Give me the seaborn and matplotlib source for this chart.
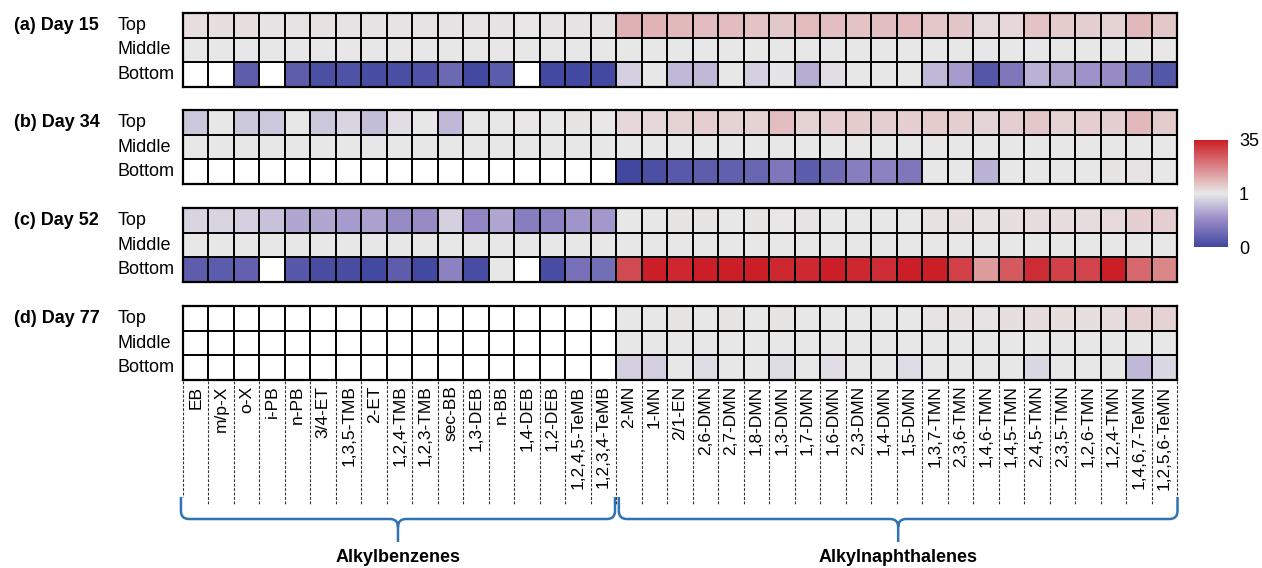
import numpy as np
import pandas as pd
import matplotlib
matplotlib.use("Agg")
import matplotlib.pyplot as plt
import seaborn as sns
from matplotlib.colors import LinearSegmentedColormap, TwoSlopeNorm
from matplotlib.path import Path
from matplotlib.patches import PathPatch
from matplotlib.lines import Line2D
import matplotlib.transforms as mtransforms

nan = np.nan

benzenes = ["EB", "m/p-X", "o-X", "i-PB", "n-PB", "3/4-ET", "1,3,5-TMB", "2-ET",
            "1,2,4-TMB", "1,2,3-TMB", "sec-BB", "1,3-DEB", "n-BB", "1,4-DEB",
            "1,2-DEB", "1,2,4,5-TeMB", "1,2,3,4-TeMB"]
naphthalenes = ["2-MN", "1-MN", "2/1-EN", "2,6-DMN", "2,7-DMN", "1,8-DMN", "1,3-DMN",
                "1,7-DMN", "1,6-DMN", "2,3-DMN", "1,4-DMN", "1,5-DMN", "1,3,7-TMN",
                "2,3,6-TMN", "1,4,6-TMN", "1,4,5-TMN", "2,4,5-TMN", "2,3,5-TMN",
                "1,2,6-TMN", "1,2,4-TMN", "1,4,6,7-TeMN", "1,2,5,6-TeMN"]
compounds = benzenes + naphthalenes
rows = ["Top", "Middle", "Bottom"]
days = ["(a) Day 15", "(b) Day 34", "(c) Day 52", "(d) Day 77"]

# ratio relative to the middle layer (blank = not detected)
d15_top = [2.8, 2.6, 2.6, 1.8, 2.0, 2.2, 2.0, 2.0, 2.0, 2.0, 2.0, 1.8, 2.0, 1.3, 2.0, 1.8, 1.8,
           10.1, 9.8, 8.9, 8.4, 8.4, 7.2, 6.4, 8.6, 8.1, 7.2, 8.1, 8.4, 6.4, 6.8, 3.4, 3.9,
           7.2, 6.0, 5.5, 4.7, 8.9, 6.4]
d15_mid = [1, 1, 1, 1, 1, 1, 1, 1, 1, 1, 1, 1, 1, 1, 1, 1, 1,
           1, 1, 1, 1, 1, 1, 1, 1, 1, 1, 1, 1, 1, 1, 1, 1, 1, 1, 1, 1, 1, 1]
d15_bot = [nan, nan, 0.17, nan, 0.17, 0.07, 0.08, 0.04, 0.06, 0.08, 0.25, 0.01, 0.16, nan,
           0.01, 0.01, 0.01,
           0.87, 1.0, 0.75, 0.75, 1.0, 0.87, 0.98, 0.69, 0.95, 1.0, 1.0, 1.0, 0.75, 0.6,
           0.11, 0.36, 0.72, 0.64, 0.54, 0.51, 0.3, 0.11]

d34_top = [0.83, 1.0, 0.83, 0.83, 1.0, 0.83, 0.90, 0.78, 0.95, 1.0, 0.75, 1.0, 1.0, 1.3,
           1.0, 1.7, 1.3,
           3.9, 3.9, 4.7, 5.5, 4.7, 4.7, 8.1, 4.7, 5.5, 6.0, 5.5, 5.0, 6.0, 5.5, 4.4, 5.5,
           6.4, 4.7, 5.5, 5.0, 8.9, 6.0]
d34_mid = [1, 1, 1, 1, 1, 1, 1, 1, 1, 1, 1, 1, 1, 1, 1, 1, 1,
           1, 1, 1, 1, 1, 1, 1, 1, 1, 1, 1, 1, 1, 1, 1, 1, 1, 1, 1, 1, 1, 1]
d34_bot = [nan, nan, nan, nan, nan, nan, nan, nan, nan, nan, nan, nan, nan, nan, nan, nan, nan,
           0.0, 0.07, 0.14, 0.17, 0.19, 0.23, 0.36, 0.16, 0.27, 0.42, 0.45, 0.36, 1.0, 1.0,
           0.72, 1.0, 1.0, 1.0, 1.0, 1.7, 2.0, 1.0]

d52_top = [0.90, 0.90, 0.87, 0.80, 0.66, 0.66, 0.60, 0.63, 0.51, 0.51, 0.87, 0.48, 0.66,
           0.42, 0.45, 0.57, 0.58,
           1.0, 1.0, 1.7, 1.7, 1.0, 1.7, 1.3, 2.0, 1.0, 1.0, 1.0, 1.0, 2.3, 2.7, 2.2, 2.7,
           3.0, 3.0, 3.0, 3.4, 5.0, 5.5]
d52_mid = [1, 1, 1, 1, 1, 1, 1, 1, 1, 1, 1, 1, 1, 1, 1, 1, 1,
           1, 1, 1, 1, 1, 1, 1, 1, 1, 1, 1, 1, 1, 1, 1, 1, 1, 1, 1, 1, 1, 1]
d52_bot = [0.17, 0.16, 0.20, nan, 0.13, 0.05, 0.05, 0.01, 0.17, 0.01, 0.45, 0.04, 1.0, nan,
           0.05, 0.31, 0.30,
           27.4, 35, 33.6, 35, 35, 35, 33.3, 33, 35, 33.3, 32.5, 35, 35, 29, 14, 24.9,
           32.5, 29, 28.5, 35, 22.4, 17.3]

d77_top = [nan, nan, nan, nan, nan, nan, nan, nan, nan, nan, nan, nan, nan, nan, nan, nan, nan,
           1.0, 1.0, 1.7, 1.0, 1.7, 1.0, 1.7, 1.0, 1.0, 1.0, 1.0, 1.0, 2.0, 2.3, 2.0, 2.7,
           3.0, 2.7, 2.7, 3.0, 4.9, 4.7]
d77_mid = [nan, nan, nan, nan, nan, nan, nan, nan, nan, nan, nan, nan, nan, nan, nan, nan, nan,
           1, 1, 1, 1, 1, 1, 1, 1, 1, 1, 1, 1, 1, 1, 1, 1, 1, 1, 1, 1, 1, 1]
d77_bot = [nan, nan, nan, nan, nan, nan, nan, nan, nan, nan, nan, nan, nan, nan, nan, nan, nan,
           0.87, 0.87, 1.0, 0.94, 1.0, 1.0, 0.94, 1.0, 0.95, 1.0, 1.0, 0.93, 1.0, 1.0, 1.0,
           1.0, 0.92, 1.0, 1.0, 1.0, 0.75, 0.92]

panels = [[d15_top, d15_mid, d15_bot], [d34_top, d34_mid, d34_bot],
          [d52_top, d52_mid, d52_bot], [d77_top, d77_mid, d77_bot]]

sns.set_style("white")
plt.rcParams["font.family"] = ["Liberation Sans", "DejaVu Sans"]
plt.rcParams["text.color"] = "black"
plt.rcParams["xtick.color"] = "black"
plt.rcParams["ytick.color"] = "black"

cmap = LinearSegmentedColormap.from_list(
    "ratio", [(0.0, "#4248A0"), (0.25, "#9589C5"), (0.5, "#E8E8E8"), (1.0, "#CC1E26")])
norm = TwoSlopeNorm(vmin=0, vcenter=1, vmax=35)

W, H = 1262, 568
fig = plt.figure(figsize=(W / 100, H / 100), dpi=100)

tops = [13, 110, 208, 306]
axes = []
for i, top in enumerate(tops):
    ax = fig.add_axes([183 / W, 1 - (top + 74) / H, 994 / W, 74 / H])
    df = pd.DataFrame(panels[i], index=rows, columns=compounds)
    sns.heatmap(df, ax=ax, cmap=cmap, norm=norm, cbar=False, linewidths=0,
                xticklabels=(i == 3), yticklabels=False)
    ax.set_facecolor("white")
    ax.hlines([1, 2], 0, len(compounds), color="black", lw=1.4)
    ax.vlines(np.arange(1, len(compounds)), 0, 3, color="black", lw=1.4)
    for s in ax.spines.values():
        s.set_visible(True)
        s.set_color("black")
        s.set_linewidth(1.6)
    ax.set_xlabel("")
    ax.set_ylabel("")
    tr = mtransforms.blended_transform_factory(fig.transFigure, ax.transData)
    fig.text(14 / W, 0.5, days[i], transform=tr, fontsize=13, fontweight="bold",
             ha="left", va="center")
    for r, name in enumerate(rows):
        fig.text(118 / W, r + 0.5, name, transform=tr, fontsize=13, ha="left", va="center")
    axes.append(ax)

axb = axes[-1]
axb.tick_params(axis="x", length=0, pad=4, labelsize=12.5, labelcolor="black")
plt.setp(axb.get_xticklabels(), rotation=90, ha="center", va="top")

# dashed separators below the bottom panel
trx = mtransforms.blended_transform_factory(axb.transData, fig.transFigure)
for k in range(len(compounds) + 1):
    y_end = 497 if k in (0, len(compounds)) else 505
    fig.add_artist(Line2D([k, k], [1 - 381 / H, 1 - y_end / H], transform=trx,
                          color="#333333", lw=0.8, ls=(0, (2.5, 1.5))))


def to_fig(x):
    disp = axb.transData.transform((x, 0))
    return fig.transFigure.inverted().transform(disp)[0]


def brace(x0, x1, color="#2E74B5"):
    fx0, fx1 = to_fig(x0), to_fig(x1)
    fxm = (fx0 + fx1) / 2
    rx, ry = 8 / W, 8 / H
    y_top, y_bar, y_tip = 1 - 497 / H, 1 - 519 / H, 1 - 542 / H
    verts = [(fx0, y_top), (fx0, y_bar + ry), (fx0, y_bar), (fx0 + rx, y_bar),
             (fxm - rx, y_bar), (fxm, y_bar), (fxm, y_bar - ry), (fxm, y_tip),
             (fxm, y_bar - ry), (fxm, y_bar), (fxm + rx, y_bar),
             (fx1 - rx, y_bar), (fx1, y_bar), (fx1, y_bar + ry), (fx1, y_top)]
    codes = [Path.MOVETO, Path.LINETO, Path.CURVE3, Path.CURVE3,
             Path.LINETO, Path.CURVE3, Path.CURVE3, Path.LINETO,
             Path.MOVETO, Path.CURVE3, Path.CURVE3,
             Path.LINETO, Path.CURVE3, Path.CURVE3, Path.LINETO]
    fig.add_artist(PathPatch(Path(verts, codes), transform=fig.transFigure,
                             fill=False, edgecolor=color, lw=1.8))
    return fxm


xm1 = brace(-0.08, len(benzenes) - 0.05)
xm2 = brace(len(benzenes) + 0.1, len(compounds) + 0.02)
fig.text(xm1, 1 - 558 / H, "Alkylbenzenes", fontsize=13, fontweight="bold",
         ha="center", va="center")
fig.text(xm2, 1 - 558 / H, "Alkylnaphthalenes", fontsize=13, fontweight="bold",
         ha="center", va="center")

# colour bar
cax = fig.add_axes([1194 / W, 1 - 247 / H, 34 / W, 107 / H])
cb = fig.colorbar(axes[0].collections[0], cax=cax, ticks=[0, 1, 35])
cb.outline.set_visible(False)
cb.ax.tick_params(length=0, labelsize=13, pad=8, labelcolor="black")
cb.ax.set_yticklabels(["0", "1", "35"])

fig.savefig("out.png", dpi=100, facecolor="white")
